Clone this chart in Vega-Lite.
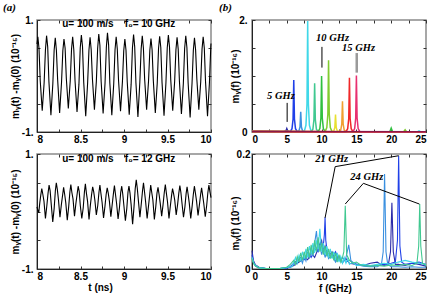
{
"$schema": "https://vega.github.io/schema/vega-lite/v6.json",
"padding": {"left": 2, "top": 1, "right": 0, "bottom": 0},
"background": "white",
"columns": 2,
"bounds": "flush",
"spacing": {"row": 22, "column": 41},
"config": {
  "view": {"stroke": "#8a8a8a", "strokeWidth": 1.5},
  "font": "Liberation Sans",
  "axis": {"labelFont": "Liberation Sans", "labelFontWeight": "bold", "labelFontSize": 10, "labelColor": "#000", "titleFont": "Liberation Sans", "titleFontWeight": "bold", "titleFontSize": 10, "titleColor": "#000", "grid": false, "tickColor": "#333", "tickSize": -3, "domainColor": "#222", "labelPadding": 5},
  "title": {"font": "Liberation Serif", "fontStyle": "italic", "fontWeight": "bold", "fontSize": 11, "anchor": "start", "frame": "bounds", "color": "#000"}
},
"datasets": {
"tl": [
{"t":8.000,"v":0.57},{"t":8.010,"v":0.70},{"t":8.023,"v":0.49},{"t":8.037,"v":-0.08},{"t":8.060,"v":-0.62},{"t":8.082,"v":-0.12},{"t":8.097,"v":0.47},
{"t":8.110,"v":0.72},{"t":8.123,"v":0.52},{"t":8.137,"v":-0.10},{"t":8.160,"v":-0.70},{"t":8.182,"v":-0.14},{"t":8.197,"v":0.46},
{"t":8.210,"v":0.68},{"t":8.223,"v":0.46},{"t":8.237,"v":-0.06},{"t":8.260,"v":-0.66},{"t":8.282,"v":-0.11},{"t":8.297,"v":0.45},
{"t":8.310,"v":0.66},{"t":8.323,"v":0.50},{"t":8.337,"v":-0.04},{"t":8.360,"v":-0.58},{"t":8.382,"v":-0.09},{"t":8.397,"v":0.48},
{"t":8.410,"v":0.70},{"t":8.423,"v":0.47},{"t":8.437,"v":-0.08},{"t":8.460,"v":-0.64},{"t":8.482,"v":-0.15},{"t":8.497,"v":0.50},
{"t":8.510,"v":0.73},{"t":8.523,"v":0.53},{"t":8.537,"v":-0.11},{"t":8.560,"v":-0.72},{"t":8.582,"v":-0.12},{"t":8.597,"v":0.46},
{"t":8.610,"v":0.69},{"t":8.623,"v":0.47},{"t":8.637,"v":-0.05},{"t":8.660,"v":-0.60},{"t":8.682,"v":-0.10},{"t":8.697,"v":0.49},
{"t":8.710,"v":0.75},{"t":8.723,"v":0.55},{"t":8.737,"v":-0.09},{"t":8.760,"v":-0.67},{"t":8.782,"v":-0.13},{"t":8.797,"v":0.51},
{"t":8.810,"v":0.77},{"t":8.823,"v":0.56},{"t":8.837,"v":-0.12},{"t":8.860,"v":-0.70},{"t":8.882,"v":-0.14},{"t":8.897,"v":0.47},
{"t":8.910,"v":0.70},{"t":8.923,"v":0.48},{"t":8.937,"v":-0.07},{"t":8.960,"v":-0.63},{"t":8.982,"v":-0.10},{"t":8.997,"v":0.45},
{"t":9.010,"v":0.66},{"t":9.023,"v":0.46},{"t":9.037,"v":-0.10},{"t":9.060,"v":-0.69},{"t":9.082,"v":-0.15},{"t":9.097,"v":0.50},
{"t":9.110,"v":0.74},{"t":9.123,"v":0.52},{"t":9.137,"v":-0.12},{"t":9.160,"v":-0.73},{"t":9.182,"v":-0.11},{"t":9.197,"v":0.48},
{"t":9.210,"v":0.72},{"t":9.223,"v":0.50},{"t":9.237,"v":-0.05},{"t":9.260,"v":-0.60},{"t":9.282,"v":-0.09},{"t":9.297,"v":0.46},
{"t":9.310,"v":0.67},{"t":9.323,"v":0.47},{"t":9.337,"v":-0.08},{"t":9.360,"v":-0.66},{"t":9.382,"v":-0.13},{"t":9.397,"v":0.49},
{"t":9.410,"v":0.71},{"t":9.423,"v":0.51},{"t":9.437,"v":-0.11},{"t":9.460,"v":-0.71},{"t":9.482,"v":-0.12},{"t":9.497,"v":0.50},
{"t":9.510,"v":0.73},{"t":9.523,"v":0.52},{"t":9.537,"v":-0.06},{"t":9.560,"v":-0.62},{"t":9.582,"v":-0.10},{"t":9.597,"v":0.47},
{"t":9.610,"v":0.69},{"t":9.623,"v":0.48},{"t":9.637,"v":-0.09},{"t":9.660,"v":-0.68},{"t":9.682,"v":-0.14},{"t":9.697,"v":0.49},
{"t":9.710,"v":0.72},{"t":9.723,"v":0.51},{"t":9.737,"v":-0.12},{"t":9.760,"v":-0.74},{"t":9.782,"v":-0.13},{"t":9.797,"v":0.46},
{"t":9.810,"v":0.68},{"t":9.823,"v":0.47},{"t":9.837,"v":-0.05},{"t":9.860,"v":-0.60},{"t":9.882,"v":-0.10},{"t":9.897,"v":0.48},
{"t":9.910,"v":0.70},{"t":9.923,"v":0.50},{"t":9.937,"v":-0.10},{"t":9.960,"v":-0.72},{"t":9.982,"v":-0.12},{"t":9.997,"v":0.50},
{"t":10.000,"v":0.58}
],
"bl": [
{"t":8.000,"v":0.08},{"t":8.010,"v":0.02},{"t":8.020,"v":-0.02},{"t":8.032,"v":0.15},{"t":8.043,"v":0.28},
{"t":8.055,"v":0.40},{"t":8.067,"v":0.30},{"t":8.080,"v":0.18},{"t":8.097,"v":-0.12},{"t":8.113,"v":0.10},{"t":8.127,"v":0.32},
{"t":8.139,"v":0.46},{"t":8.151,"v":0.36},{"t":8.164,"v":0.12},{"t":8.181,"v":-0.18},{"t":8.197,"v":0.05},{"t":8.211,"v":0.36},
{"t":8.222,"v":0.50},{"t":8.234,"v":0.38},{"t":8.247,"v":0.20},{"t":8.264,"v":-0.10},{"t":8.280,"v":0.12},{"t":8.294,"v":0.28},
{"t":8.306,"v":0.42},{"t":8.318,"v":0.30},{"t":8.331,"v":0.15},{"t":8.348,"v":-0.15},{"t":8.364,"v":0.08},{"t":8.378,"v":0.34},
{"t":8.389,"v":0.47},{"t":8.401,"v":0.33},{"t":8.414,"v":0.22},{"t":8.431,"v":-0.08},{"t":8.447,"v":0.14},{"t":8.461,"v":0.30},
{"t":8.473,"v":0.44},{"t":8.485,"v":0.35},{"t":8.498,"v":0.10},{"t":8.515,"v":-0.12},{"t":8.531,"v":0.06},{"t":8.545,"v":0.34},
{"t":8.556,"v":0.48},{"t":8.568,"v":0.32},{"t":8.581,"v":0.18},{"t":8.598,"v":-0.14},{"t":8.614,"v":0.12},{"t":8.628,"v":0.30},
{"t":8.640,"v":0.43},{"t":8.652,"v":0.34},{"t":8.665,"v":0.20},{"t":8.682,"v":-0.06},{"t":8.698,"v":0.10},{"t":8.712,"v":0.33},
{"t":8.723,"v":0.46},{"t":8.735,"v":0.31},{"t":8.748,"v":0.16},{"t":8.765,"v":-0.11},{"t":8.781,"v":0.09},{"t":8.795,"v":0.30},
{"t":8.807,"v":0.41},{"t":8.819,"v":0.32},{"t":8.832,"v":0.18},{"t":8.849,"v":-0.09},{"t":8.865,"v":0.13},{"t":8.879,"v":0.32},
{"t":8.890,"v":0.45},{"t":8.902,"v":0.30},{"t":8.915,"v":0.14},{"t":8.932,"v":-0.13},{"t":8.948,"v":0.07},{"t":8.962,"v":0.33},
{"t":8.974,"v":0.44},{"t":8.986,"v":0.30},{"t":8.999,"v":0.10},{"t":9.016,"v":-0.16},{"t":9.032,"v":0.05},{"t":9.046,"v":0.34},
{"t":9.057,"v":0.44},{"t":9.069,"v":0.32},{"t":9.082,"v":0.12},{"t":9.099,"v":-0.22},{"t":9.115,"v":0.08},{"t":9.129,"v":0.40},
{"t":9.141,"v":0.55},{"t":9.153,"v":0.40},{"t":9.166,"v":0.18},{"t":9.183,"v":-0.10},{"t":9.199,"v":0.14},{"t":9.213,"v":0.36},
{"t":9.224,"v":0.50},{"t":9.236,"v":0.34},{"t":9.249,"v":0.16},{"t":9.266,"v":-0.12},{"t":9.282,"v":0.10},{"t":9.296,"v":0.30},
{"t":9.307,"v":0.46},{"t":9.319,"v":0.33},{"t":9.332,"v":0.20},{"t":9.349,"v":-0.14},{"t":9.365,"v":0.08},{"t":9.379,"v":0.32},
{"t":9.391,"v":0.42},{"t":9.403,"v":0.30},{"t":9.416,"v":0.15},{"t":9.433,"v":-0.08},{"t":9.449,"v":0.12},{"t":9.463,"v":0.33},
{"t":9.475,"v":0.47},{"t":9.487,"v":0.32},{"t":9.500,"v":0.17},{"t":9.517,"v":-0.12},{"t":9.533,"v":0.10},{"t":9.547,"v":0.28},
{"t":9.558,"v":0.40},{"t":9.570,"v":0.31},{"t":9.583,"v":0.20},{"t":9.600,"v":-0.06},{"t":9.616,"v":0.12},{"t":9.630,"v":0.32},
{"t":9.642,"v":0.45},{"t":9.654,"v":0.33},{"t":9.667,"v":0.14},{"t":9.684,"v":-0.10},{"t":9.700,"v":0.08},{"t":9.714,"v":0.31},
{"t":9.725,"v":0.43},{"t":9.737,"v":0.30},{"t":9.750,"v":0.15},{"t":9.767,"v":-0.12},{"t":9.783,"v":0.09},{"t":9.797,"v":0.30},
{"t":9.809,"v":0.44},{"t":9.821,"v":0.32},{"t":9.834,"v":0.18},{"t":9.851,"v":-0.07},{"t":9.867,"v":0.12},{"t":9.881,"v":0.30},
{"t":9.892,"v":0.41},{"t":9.904,"v":0.28},{"t":9.917,"v":0.14},{"t":9.934,"v":-0.09},{"t":9.950,"v":0.10},{"t":9.964,"v":0.33},
{"t":9.976,"v":0.46},{"t":9.988,"v":0.34},{"t":10.000,"v":0.24}
],
"tlText": [{"t":8.29,"v":0.92,"label":"u= 100 m/s"},{"t":9.01,"v":0.92,"label":"f₀= 10 GHz"}],
"blText": [{"t":8.29,"v":0.92,"label":"u= 100 m/s"},{"t":9.01,"v":0.92,"label":"f₀= 12 GHz"}],
"tr": [
{"s":"5","f":0,"y":0.01},{"s":"5","f":4.5,"y":0.006},{"s":"5","f":4.75,"y":0.012},{"s":"5","f":4.9,"y":0.025},{"s":"5","f":5,"y":0.06},{"s":"5","f":5.1,"y":0.025},{"s":"5","f":5.25,"y":0.012},{"s":"5","f":5.5,"y":0.006},{"s":"5","f":25,"y":0.004},
{"s":"6","f":0,"y":0.01},{"s":"6","f":5.5,"y":0.006},{"s":"6","f":5.75,"y":0.06},{"s":"6","f":5.9,"y":0.23},{"s":"6","f":6,"y":0.93},{"s":"6","f":6.1,"y":0.23},{"s":"6","f":6.25,"y":0.06},{"s":"6","f":6.5,"y":0.006},{"s":"6","f":25,"y":0.004},
{"s":"7","f":0,"y":0.01},{"s":"7","f":6.5,"y":0.006},{"s":"7","f":6.75,"y":0.022},{"s":"7","f":6.9,"y":0.09},{"s":"7","f":7,"y":0.36},{"s":"7","f":7.1,"y":0.09},{"s":"7","f":7.25,"y":0.022},{"s":"7","f":7.5,"y":0.006},{"s":"7","f":25,"y":0.004},
{"s":"8","f":0,"y":0.01},{"s":"8","f":7.5,"y":0.006},{"s":"8","f":7.75,"y":0.12},{"s":"8","f":7.9,"y":0.5},{"s":"8","f":8,"y":1.98},{"s":"8","f":8.1,"y":0.5},{"s":"8","f":8.25,"y":0.12},{"s":"8","f":8.5,"y":0.008},{"s":"8","f":23.8,"y":0.005},{"s":"8","f":24,"y":0.02},{"s":"8","f":24.2,"y":0.005},{"s":"8","f":25,"y":0.004},
{"s":"9","f":0,"y":0.01},{"s":"9","f":8.5,"y":0.006},{"s":"9","f":8.75,"y":0.05},{"s":"9","f":8.9,"y":0.22},{"s":"9","f":9,"y":0.87},{"s":"9","f":9.1,"y":0.22},{"s":"9","f":9.25,"y":0.05},{"s":"9","f":9.5,"y":0.006},{"s":"9","f":25,"y":0.004},
{"s":"10","f":0,"y":0.01},{"s":"10","f":9.5,"y":0.006},{"s":"10","f":9.75,"y":0.06},{"s":"10","f":9.9,"y":0.25},{"s":"10","f":10,"y":1.0},{"s":"10","f":10.1,"y":0.25},{"s":"10","f":10.25,"y":0.06},{"s":"10","f":10.5,"y":0.006},{"s":"10","f":19.8,"y":0.006},{"s":"10","f":20,"y":0.07},{"s":"10","f":20.2,"y":0.006},{"s":"10","f":25,"y":0.004},
{"s":"11","f":0,"y":0.01},{"s":"11","f":10.5,"y":0.006},{"s":"11","f":10.75,"y":0.08},{"s":"11","f":10.9,"y":0.32},{"s":"11","f":11,"y":1.28},{"s":"11","f":11.1,"y":0.32},{"s":"11","f":11.25,"y":0.08},{"s":"11","f":11.5,"y":0.006},{"s":"11","f":21.8,"y":0.005},{"s":"11","f":22,"y":0.04},{"s":"11","f":22.2,"y":0.005},{"s":"11","f":25,"y":0.004},
{"s":"12","f":0,"y":0.01},{"s":"12","f":11.5,"y":0.006},{"s":"12","f":11.75,"y":0.02},{"s":"12","f":11.9,"y":0.08},{"s":"12","f":12,"y":0.31},{"s":"12","f":12.1,"y":0.08},{"s":"12","f":12.25,"y":0.02},{"s":"12","f":12.5,"y":0.006},{"s":"12","f":25,"y":0.004},
{"s":"13","f":0,"y":0.01},{"s":"13","f":12.5,"y":0.006},{"s":"13","f":12.75,"y":0.035},{"s":"13","f":12.9,"y":0.14},{"s":"13","f":13,"y":0.55},{"s":"13","f":13.1,"y":0.14},{"s":"13","f":13.25,"y":0.035},{"s":"13","f":13.5,"y":0.006},{"s":"13","f":25,"y":0.004},
{"s":"14","f":0,"y":0.01},{"s":"14","f":13.5,"y":0.006},{"s":"14","f":13.75,"y":0.06},{"s":"14","f":13.9,"y":0.24},{"s":"14","f":14,"y":0.97},{"s":"14","f":14.1,"y":0.24},{"s":"14","f":14.25,"y":0.06},{"s":"14","f":14.5,"y":0.006},{"s":"14","f":25,"y":0.004},
{"s":"15","f":0,"y":0.01},{"s":"15","f":14.5,"y":0.006},{"s":"15","f":14.75,"y":0.06},{"s":"15","f":14.9,"y":0.25},{"s":"15","f":15,"y":1.01},{"s":"15","f":15.1,"y":0.25},{"s":"15","f":15.25,"y":0.06},{"s":"15","f":15.5,"y":0.006},{"s":"15","f":25,"y":0.004},
{"s":"16","f":0,"y":0.008},{"s":"16","f":25,"y":0.003}
],
"trLead": [{"f":5.05,"y":0.18,"y2":0.52},{"f":10.05,"y":1.15,"y2":1.52}],
"trLead15": [{"f":15.05,"y":1.06,"y2":1.41}],
"trText": [{"label":"5 GHz","f":4.15,"y":0.65},{"label":"10 GHz","f":11.57,"y":1.67},{"label":"15 GHz","f":15.3,"y":1.5}],
"br": [
{"s":"20","f":0,"y":0.032},{"s":"20","f":0.2,"y":0.015},{"s":"20","f":0.5,"y":0.007},{"s":"20","f":1,"y":0.003},{"s":"20","f":2,"y":0.001},{"s":"20","f":4,"y":0.001},{"s":"20","f":5,"y":0.002},{"s":"20","f":5.5,"y":0.003},{"s":"20","f":6,"y":0.006},{"s":"20","f":6.5,"y":0.01},{"s":"20","f":7,"y":0.014},{"s":"20","f":7.5,"y":0.02},{"s":"20","f":8,"y":0.016},{"s":"20","f":8.5,"y":0.028},{"s":"20","f":9,"y":0.02},{"s":"20","f":9.5,"y":0.035},{"s":"20","f":10,"y":0.05},{"s":"20","f":10.25,"y":0.03},{"s":"20","f":10.5,"y":0.04},{"s":"20","f":11,"y":0.022},{"s":"20","f":11.5,"y":0.03},{"s":"20","f":12,"y":0.015},{"s":"20","f":12.5,"y":0.022},{"s":"20","f":13,"y":0.012},{"s":"20","f":13.5,"y":0.018},{"s":"20","f":14,"y":0.01},{"s":"20","f":15,"y":0.008},{"s":"20","f":16,"y":0.006},{"s":"20","f":17,"y":0.01},{"s":"20","f":18,"y":0.012},{"s":"20","f":18.5,"y":0.008},{"s":"20","f":19,"y":0.006},{"s":"20","f":19.6,"y":0.008},{"s":"20","f":19.9,"y":0.03},{"s":"20","f":20.1,"y":0.115},{"s":"20","f":20.3,"y":0.03},{"s":"20","f":20.6,"y":0.008},{"s":"20","f":21,"y":0.008},{"s":"20","f":22,"y":0.006},{"s":"20","f":23,"y":0.01},{"s":"20","f":24,"y":0.008},{"s":"20","f":25,"y":0.005},
{"s":"21","f":0,"y":0.025},{"s":"21","f":0.2,"y":0.012},{"s":"21","f":0.5,"y":0.005},{"s":"21","f":1,"y":0.002},{"s":"21","f":2,"y":0.001},{"s":"21","f":4,"y":0.001},{"s":"21","f":5,"y":0.002},{"s":"21","f":5.5,"y":0.004},{"s":"21","f":6,"y":0.01},{"s":"21","f":6.5,"y":0.015},{"s":"21","f":7,"y":0.02},{"s":"21","f":7.5,"y":0.016},{"s":"21","f":8,"y":0.028},{"s":"21","f":8.5,"y":0.02},{"s":"21","f":9,"y":0.035},{"s":"21","f":9.5,"y":0.03},{"s":"21","f":9.8,"y":0.045},{"s":"21","f":10.2,"y":0.035},{"s":"21","f":10.4,"y":0.06},{"s":"21","f":10.5,"y":0.09},{"s":"21","f":10.6,"y":0.05},{"s":"21","f":10.8,"y":0.03},{"s":"21","f":11,"y":0.025},{"s":"21","f":11.5,"y":0.02},{"s":"21","f":12,"y":0.03},{"s":"21","f":12.5,"y":0.015},{"s":"21","f":13,"y":0.02},{"s":"21","f":13.5,"y":0.012},{"s":"21","f":14,"y":0.015},{"s":"21","f":15,"y":0.008},{"s":"21","f":16,"y":0.006},{"s":"21","f":17,"y":0.005},{"s":"21","f":18,"y":0.006},{"s":"21","f":19,"y":0.008},{"s":"21","f":20,"y":0.01},{"s":"21","f":20.6,"y":0.012},{"s":"21","f":20.9,"y":0.05},{"s":"21","f":21.07,"y":0.197},{"s":"21","f":21.25,"y":0.04},{"s":"21","f":21.5,"y":0.012},{"s":"21","f":22,"y":0.008},{"s":"21","f":23,"y":0.01},{"s":"21","f":24,"y":0.012},{"s":"21","f":25,"y":0.008},
{"s":"19","f":0,"y":0.02},{"s":"19","f":0.2,"y":0.012},{"s":"19","f":0.5,"y":0.006},{"s":"19","f":1,"y":0.003},{"s":"19","f":2,"y":0.001},{"s":"19","f":4,"y":0.001},{"s":"19","f":5,"y":0.002},{"s":"19","f":5.5,"y":0.004},{"s":"19","f":6,"y":0.008},{"s":"19","f":6.5,"y":0.012},{"s":"19","f":7,"y":0.018},{"s":"19","f":7.25,"y":0.01},{"s":"19","f":7.5,"y":0.022},{"s":"19","f":7.75,"y":0.014},{"s":"19","f":8,"y":0.03},{"s":"19","f":8.25,"y":0.018},{"s":"19","f":8.5,"y":0.036},{"s":"19","f":8.75,"y":0.022},{"s":"19","f":9,"y":0.045},{"s":"19","f":9.26,"y":0.066},{"s":"19","f":9.5,"y":0.03},{"s":"19","f":9.75,"y":0.042},{"s":"19","f":10,"y":0.025},{"s":"19","f":10.25,"y":0.035},{"s":"19","f":10.5,"y":0.02},{"s":"19","f":10.75,"y":0.03},{"s":"19","f":11,"y":0.018},{"s":"19","f":11.5,"y":0.025},{"s":"19","f":12,"y":0.012},{"s":"19","f":12.5,"y":0.02},{"s":"19","f":13,"y":0.01},{"s":"19","f":13.5,"y":0.02},{"s":"19","f":13.9,"y":0.042},{"s":"19","f":14.2,"y":0.015},{"s":"19","f":14.5,"y":0.01},{"s":"19","f":15,"y":0.008},{"s":"19","f":16,"y":0.005},{"s":"19","f":17,"y":0.004},{"s":"19","f":18,"y":0.004},{"s":"19","f":18.6,"y":0.008},{"s":"19","f":18.85,"y":0.03},{"s":"19","f":19.05,"y":0.165},{"s":"19","f":19.25,"y":0.03},{"s":"19","f":19.5,"y":0.008},{"s":"19","f":20,"y":0.004},{"s":"19","f":21,"y":0.004},{"s":"19","f":22,"y":0.003},{"s":"19","f":23,"y":0.004},{"s":"19","f":24,"y":0.003},{"s":"19","f":25,"y":0.003},
{"s":"22","f":0,"y":0.02},{"s":"22","f":0.3,"y":0.008},{"s":"22","f":1,"y":0.002},{"s":"22","f":2,"y":0.001},{"s":"22","f":4,"y":0.001},{"s":"22","f":5,"y":0.003},{"s":"22","f":5.75,"y":0.004},{"s":"22","f":6,"y":0.012},{"s":"22","f":6.25,"y":0.02},{"s":"22","f":6.5,"y":0.01},{"s":"22","f":6.75,"y":0.024},{"s":"22","f":7,"y":0.015},{"s":"22","f":7.25,"y":0.03},{"s":"22","f":7.5,"y":0.018},{"s":"22","f":7.75,"y":0.035},{"s":"22","f":8,"y":0.02},{"s":"22","f":8.25,"y":0.04},{"s":"22","f":8.5,"y":0.025},{"s":"22","f":8.75,"y":0.045},{"s":"22","f":9,"y":0.028},{"s":"22","f":9.25,"y":0.05},{"s":"22","f":9.5,"y":0.035},{"s":"22","f":9.75,"y":0.07},{"s":"22","f":10,"y":0.03},{"s":"22","f":10.25,"y":0.045},{"s":"22","f":10.5,"y":0.025},{"s":"22","f":10.75,"y":0.04},{"s":"22","f":11,"y":0.02},{"s":"22","f":11.25,"y":0.035},{"s":"22","f":11.5,"y":0.018},{"s":"22","f":11.75,"y":0.03},{"s":"22","f":12,"y":0.015},{"s":"22","f":12.25,"y":0.028},{"s":"22","f":12.5,"y":0.012},{"s":"22","f":12.75,"y":0.022},{"s":"22","f":13,"y":0.01},{"s":"22","f":13.25,"y":0.02},{"s":"22","f":13.5,"y":0.01},{"s":"22","f":13.75,"y":0.018},{"s":"22","f":14,"y":0.008},{"s":"22","f":14.5,"y":0.012},{"s":"22","f":15,"y":0.006},{"s":"22","f":16,"y":0.008},{"s":"22","f":17,"y":0.006},{"s":"22","f":18,"y":0.008},{"s":"22","f":19,"y":0.01},{"s":"22","f":20,"y":0.008},{"s":"22","f":21,"y":0.012},{"s":"22","f":22,"y":0.015},{"s":"22","f":23,"y":0.012},{"s":"22","f":24,"y":0.01},{"s":"22","f":25,"y":0.008},
{"s":"24","f":0,"y":0.018},{"s":"24","f":0.2,"y":0.01},{"s":"24","f":0.5,"y":0.005},{"s":"24","f":1,"y":0.002},{"s":"24","f":2,"y":0.001},{"s":"24","f":4,"y":0.001},{"s":"24","f":5,"y":0.003},{"s":"24","f":5.5,"y":0.008},{"s":"24","f":6,"y":0.015},{"s":"24","f":6.25,"y":0.008},{"s":"24","f":6.5,"y":0.022},{"s":"24","f":6.75,"y":0.012},{"s":"24","f":7,"y":0.028},{"s":"24","f":7.25,"y":0.015},{"s":"24","f":7.5,"y":0.03},{"s":"24","f":7.75,"y":0.018},{"s":"24","f":8,"y":0.038},{"s":"24","f":8.25,"y":0.02},{"s":"24","f":8.5,"y":0.042},{"s":"24","f":8.75,"y":0.025},{"s":"24","f":9,"y":0.05},{"s":"24","f":9.25,"y":0.03},{"s":"24","f":9.5,"y":0.055},{"s":"24","f":9.75,"y":0.03},{"s":"24","f":10,"y":0.045},{"s":"24","f":10.25,"y":0.025},{"s":"24","f":10.5,"y":0.04},{"s":"24","f":10.75,"y":0.022},{"s":"24","f":11,"y":0.035},{"s":"24","f":11.25,"y":0.018},{"s":"24","f":11.5,"y":0.03},{"s":"24","f":11.75,"y":0.015},{"s":"24","f":12,"y":0.028},{"s":"24","f":12.25,"y":0.012},{"s":"24","f":12.5,"y":0.025},{"s":"24","f":12.75,"y":0.012},{"s":"24","f":13,"y":0.02},{"s":"24","f":13.2,"y":0.03},{"s":"24","f":13.4,"y":0.11},{"s":"24","f":13.6,"y":0.025},{"s":"24","f":13.8,"y":0.02},{"s":"24","f":14,"y":0.015},{"s":"24","f":14.5,"y":0.01},{"s":"24","f":15,"y":0.012},{"s":"24","f":15.5,"y":0.008},{"s":"24","f":16,"y":0.006},{"s":"24","f":17,"y":0.005},{"s":"24","f":18,"y":0.006},{"s":"24","f":19,"y":0.005},{"s":"24","f":20,"y":0.007},{"s":"24","f":21,"y":0.006},{"s":"24","f":22,"y":0.008},{"s":"24","f":23,"y":0.006},{"s":"24","f":23.7,"y":0.01},{"s":"24","f":23.95,"y":0.04},{"s":"24","f":24.1,"y":0.113},{"s":"24","f":24.25,"y":0.04},{"s":"24","f":24.5,"y":0.01},{"s":"24","f":25,"y":0.006}
],
"brLead": [{"f":11.95,"y":0.178,"f2":10.5,"y2":0.089},{"f":11.95,"y":0.178,"f2":21.07,"y2":0.197},{"f":16.0,"y":0.149,"f2":13.4,"y2":0.113},{"f":16.0,"y":0.149,"f2":24.05,"y2":0.113}],
"brText": [{"label":"21 GHz","f":11.45,"y":0.192},{"label":"24 GHz","f":16.5,"y":0.16}]
},
"concat": [
{
 "width": 174, "height": 112,
 "title": {"text": "(a)", "dx": -7, "offset": 2},
 "resolve": {"axis": {"x": "independent", "y": "independent"}},
 "layer": [
  {"data": {"name": "tl"}, "mark": {"type": "line", "color": "#000", "strokeWidth": 1.1},
   "encoding": {
    "x": {"field": "t", "type": "quantitative", "scale": {"domain": [8, 10], "nice": false, "zero": false},
          "axis": {"title": null, "values": [8, 8.25, 8.5, 8.75, 9, 9.25, 9.5, 9.75, 10], "labelExpr": "(datum.value * 2) % 1 == 0 ? format(datum.value, '~g') : ''"}},
    "y": {"field": "v", "type": "quantitative", "scale": {"domain": [-1, 1], "nice": false},
          "axis": {"title": "mᵧ(t) -mᵧ(0) (10⁻¹⁵)", "titleX": -17, "values": [-1, -0.5, 0, 0.5, 1], "labelExpr": "datum.value == 1 ? '1.' : datum.value == -1 ? '-1.' : ''", "labelPadding": 7}}
   }},
  {"data": {"name": "tl"}, "mark": {"type": "line", "opacity": 0},
   "encoding": {
    "x": {"field": "t", "type": "quantitative", "axis": {"orient": "top", "title": null, "labels": false, "domain": false, "values": [8, 8.25, 8.5, 8.75, 9, 9.25, 9.5, 9.75, 10]}},
    "y": {"field": "v", "type": "quantitative", "axis": {"orient": "right", "title": null, "labels": false, "domain": false, "values": [-1, -0.5, 0, 0.5, 1]}}
   }},
  {"data": {"name": "tlText"}, "mark": {"type": "text", "align": "left", "baseline": "middle", "font": "Liberation Sans", "fontWeight": "bold", "fontSize": 10, "color": "#000"},
   "encoding": {
    "x": {"field": "t", "type": "quantitative", "axis": null},
    "y": {"field": "v", "type": "quantitative", "axis": null},
    "text": {"field": "label"}
   }}
 ]
},
{
 "width": 174, "height": 112,
 "title": {"text": "(b)", "dx": -11, "offset": 2},
 "resolve": {"axis": {"x": "independent", "y": "independent"}},
 "layer": [
  {"data": {"name": "tr"}, "mark": {"type": "line", "strokeWidth": 1.5},
   "encoding": {
    "x": {"field": "f", "type": "quantitative", "scale": {"domain": [0, 25], "nice": false},
          "axis": {"title": null, "values": [0, 2.5, 5, 7.5, 10, 12.5, 15, 17.5, 20, 22.5, 25], "labelExpr": "datum.value % 5 == 0 ? format(datum.value, 'd') : ''"}},
    "y": {"field": "y", "type": "quantitative", "scale": {"domain": [0, 2], "nice": false},
          "axis": {"title": "mᵧ(f) (10⁻¹⁶)", "titleX": -12, "values": [0, 0.5, 1, 1.5, 2], "labelExpr": "datum.value == 0 ? '0' : datum.value == 2 ? '2.' : ''", "labelPadding": 8}},
    "color": {"field": "s", "type": "nominal", "legend": null,
              "scale": {"domain": ["5","6","7","8","9","10","11","12","13","14","15","16"],
                        "range": ["#2a2aa8","#2040e8","#3a90e0","#40d8e8","#40c890","#30c040","#80cc30","#e8e030","#f0a030","#f02828","#e83070","#8c1848"]}}
   }},
  {"data": {"name": "tr"}, "mark": {"type": "line", "opacity": 0},
   "encoding": {
    "x": {"field": "f", "type": "quantitative", "axis": {"orient": "top", "title": null, "labels": false, "domain": false, "values": [0, 2.5, 5, 7.5, 10, 12.5, 15, 17.5, 20, 22.5, 25]}},
    "y": {"field": "y", "type": "quantitative", "axis": {"orient": "right", "title": null, "labels": false, "domain": false, "values": [0, 0.5, 1, 1.5, 2]}}
   }},
  {"data": {"name": "trLead"}, "mark": {"type": "rule", "color": "#000", "strokeWidth": 1},
   "encoding": {
    "x": {"field": "f", "type": "quantitative", "axis": null},
    "y": {"field": "y", "type": "quantitative", "axis": null},
    "y2": {"field": "y2"}
   }},
  {"data": {"name": "trLead15"}, "mark": {"type": "rule", "color": "#9a9a9a", "strokeWidth": 2.5},
   "encoding": {
    "x": {"field": "f", "type": "quantitative", "axis": null},
    "y": {"field": "y", "type": "quantitative", "axis": null},
    "y2": {"field": "y2"}
   }},
  {"data": {"name": "trText"}, "mark": {"type": "text", "align": "center", "baseline": "middle", "font": "Liberation Serif", "fontStyle": "italic", "fontWeight": "bold", "fontSize": 10.5, "color": "#000"},
   "encoding": {
    "x": {"field": "f", "type": "quantitative", "axis": null},
    "y": {"field": "y", "type": "quantitative", "axis": null},
    "text": {"field": "label"}
   }}
 ]
},
{
 "width": 174, "height": 115,
 "resolve": {"axis": {"x": "independent", "y": "independent"}},
 "layer": [
  {"data": {"name": "bl"}, "mark": {"type": "line", "color": "#000", "strokeWidth": 1.1},
   "encoding": {
    "x": {"field": "t", "type": "quantitative", "scale": {"domain": [8, 10], "nice": false, "zero": false},
          "axis": {"title": "t (ns)", "titleX": 63, "titleY": 13, "values": [8, 8.25, 8.5, 8.75, 9, 9.25, 9.5, 9.75, 10], "labelExpr": "(datum.value * 2) % 1 == 0 ? format(datum.value, '~g') : ''"}},
    "y": {"field": "v", "type": "quantitative", "scale": {"domain": [-1, 1], "nice": false},
          "axis": {"title": "mᵧ(t) -mᵧ(0) (10⁻¹⁵)", "titleX": -17, "values": [-1, -0.5, 0, 0.5, 1], "labelExpr": "datum.value == 1 ? '1.' : datum.value == -1 ? '-1.' : ''", "labelPadding": 7}}
   }},
  {"data": {"name": "bl"}, "mark": {"type": "line", "opacity": 0},
   "encoding": {
    "x": {"field": "t", "type": "quantitative", "axis": {"orient": "top", "title": null, "labels": false, "domain": false, "values": [8, 8.25, 8.5, 8.75, 9, 9.25, 9.5, 9.75, 10]}},
    "y": {"field": "v", "type": "quantitative", "axis": {"orient": "right", "title": null, "labels": false, "domain": false, "values": [-1, -0.5, 0, 0.5, 1]}}
   }},
  {"data": {"name": "blText"}, "mark": {"type": "text", "align": "left", "baseline": "middle", "font": "Liberation Sans", "fontWeight": "bold", "fontSize": 10, "color": "#000"},
   "encoding": {
    "x": {"field": "t", "type": "quantitative", "axis": null},
    "y": {"field": "v", "type": "quantitative", "axis": null},
    "text": {"field": "label"}
   }}
 ]
},
{
 "width": 174, "height": 115,
 "resolve": {"axis": {"x": "independent", "y": "independent"}},
 "layer": [
  {"data": {"name": "br"}, "mark": {"type": "line", "strokeWidth": 1.1},
   "encoding": {
    "x": {"field": "f", "type": "quantitative", "scale": {"domain": [0, 25], "nice": false},
          "axis": {"title": "f (GHz)", "titleX": 83, "titleY": 14, "values": [0, 2.5, 5, 7.5, 10, 12.5, 15, 17.5, 20, 22.5, 25], "labelExpr": "datum.value % 5 == 0 ? format(datum.value, 'd') : ''"}},
    "y": {"field": "y", "type": "quantitative", "scale": {"domain": [0, 0.2], "nice": false},
          "axis": {"title": "mᵧ(f) (10⁻¹⁶)", "titleX": -12, "titleY": 69, "values": [0, 0.05, 0.1, 0.15, 0.2], "labelExpr": "datum.value == 0 ? '0' : datum.value == 0.2 ? '0.2' : ''", "labelPadding": 5}},
    "color": {"field": "s", "type": "nominal", "legend": null,
              "scale": {"domain": ["20","21","19","22","24"], "range": ["#2030c8","#3a8ee8","#111111","#30c8c0","#28d048"]}}
   }},
  {"data": {"name": "br"}, "mark": {"type": "line", "opacity": 0},
   "encoding": {
    "x": {"field": "f", "type": "quantitative", "axis": {"orient": "top", "title": null, "labels": false, "domain": false, "values": [0, 2.5, 5, 7.5, 10, 12.5, 15, 17.5, 20, 22.5, 25]}},
    "y": {"field": "y", "type": "quantitative", "axis": {"orient": "right", "title": null, "labels": false, "domain": false, "values": [0, 0.05, 0.1, 0.15, 0.2]}}
   }},
  {"data": {"name": "brLead"}, "mark": {"type": "rule", "color": "#000", "strokeWidth": 1},
   "encoding": {
    "x": {"field": "f", "type": "quantitative", "axis": null},
    "x2": {"field": "f2"},
    "y": {"field": "y", "type": "quantitative", "axis": null},
    "y2": {"field": "y2"}
   }},
  {"data": {"name": "brText"}, "mark": {"type": "text", "align": "center", "baseline": "middle", "font": "Liberation Serif", "fontStyle": "italic", "fontWeight": "bold", "fontSize": 10.5, "color": "#000"},
   "encoding": {
    "x": {"field": "f", "type": "quantitative", "axis": null},
    "y": {"field": "y", "type": "quantitative", "axis": null},
    "text": {"field": "label"}
   }}
 ]
}
]
}
